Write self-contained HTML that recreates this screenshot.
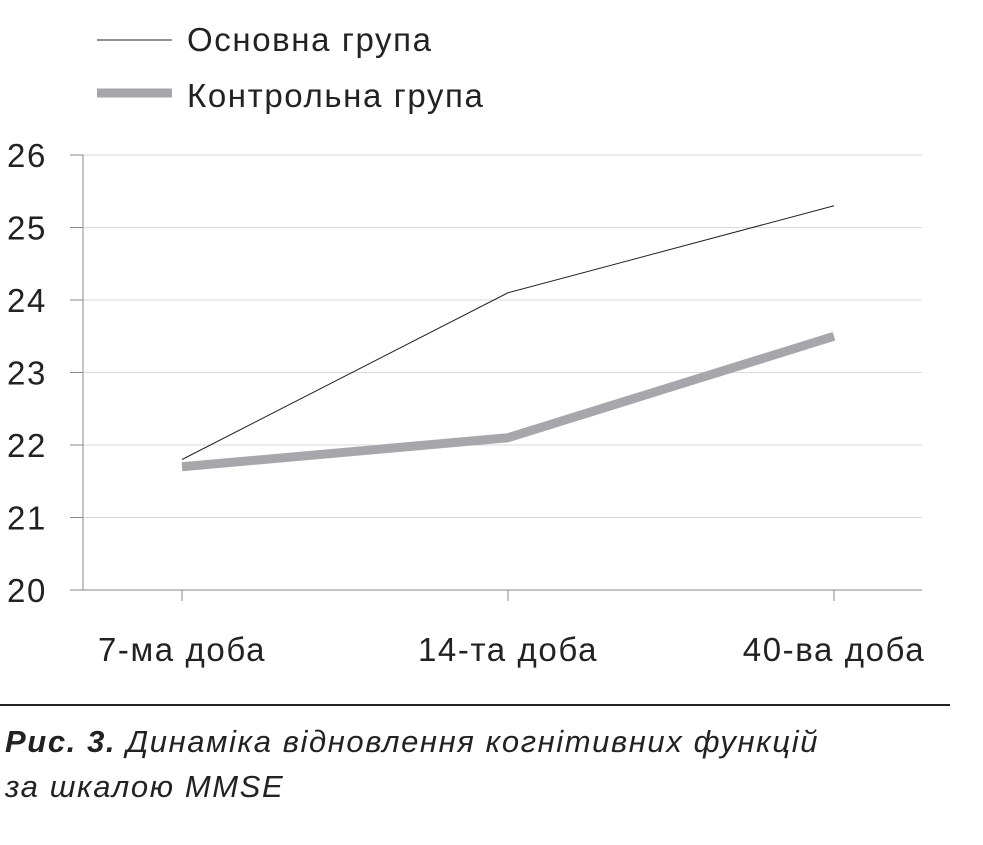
<!DOCTYPE html>
<html><head><meta charset="utf-8">
<style>
html,body{margin:0;padding:0;background:#fff;}
body{width:983px;height:840px;overflow:hidden;font-family:"Liberation Sans",sans-serif;}
text{letter-spacing:1.6px;}
</style></head>
<body>
<svg width="983" height="840" xmlns="http://www.w3.org/2000/svg">
<g id="legend">
  <line x1="97" y1="40" x2="172" y2="40" stroke="#222" stroke-width="1"/>
  <text x="187" y="51" font-size="33" fill="#222">Основна група</text>
  <line x1="97" y1="93" x2="172" y2="93" stroke="#a7a7ab" stroke-width="9"/>
  <text x="187" y="107" font-size="33" fill="#222">Контрольна група</text>
</g>
<g id="grid"></g>
<g id="axes"></g>
<g id="series"></g>
<line x1="0" y1="705" x2="950" y2="705" stroke="#222" stroke-width="2"/>
<text x="5" y="752" font-size="31" font-style="italic" fill="#222"><tspan font-weight="bold">Рис. 3.</tspan> Динаміка відновлення когнітивних функцій</text>
<text x="5" y="797" font-size="31" font-style="italic" fill="#222">за шкалою MMSE</text>
</svg>
<script>
const categories = ["7-ма доба","14-та доба","40-ва доба"];
const mainValues = [21.8, 24.1, 25.3];
const controlValues = [21.7, 22.1, 23.5];
const yTicks = [20,21,22,23,24,25,26];

const NS="http://www.w3.org/2000/svg";
const x0=83, x1=922, yTop=155, yBot=590, yMin=20, yMax=26;
function yScale(v){return yBot-(v-yMin)/(yMax-yMin)*(yBot-yTop);}
function xScale(i){return 182+i*(834-182)/(categories.length-1);}
function mk(tag,attrs,parent){const e=document.createElementNS(NS,tag);for(const k in attrs)e.setAttribute(k,attrs[k]);parent.appendChild(e);return e;}
const grid=document.getElementById('grid'), axes=document.getElementById('axes'), series=document.getElementById('series');
yTicks.forEach(t=>{
  const y=yScale(t);
  if(t!==yMin){
    const g=mk('line',{x1:x0,x2:x1,y1:y,y2:y,stroke:'#d9d9d9','stroke-width':1},grid);
    
    
  }
  const tk=mk('line',{x1:70,x2:x0,y1:y,y2:y,stroke:'#888','stroke-width':1},axes);
  
  
  const tx=mk('text',{x:7,y:y+12,'font-size':33,fill:'#222'},axes);
  tx.textContent=t;
  
  
});
const ya=mk('line',{x1:x0,x2:x0,y1:yTop,y2:yBot,stroke:'#888','stroke-width':1},axes);


const xa=mk('line',{x1:70,x2:x1,y1:yBot,y2:yBot,stroke:'#888','stroke-width':1},axes);


categories.forEach((c,i)=>{
  const x=xScale(i);
  const tk=mk('line',{x1:x,x2:x,y1:yBot,y2:yBot+11,stroke:'#888','stroke-width':1},axes);
  
  
  const tx=mk('text',{x:x,y:661,'font-size':33,fill:'#222','text-anchor':'middle'},axes);
  tx.textContent=c;
  
  
});
function pts(vals){return vals.map((v,i)=>xScale(i)+','+yScale(v)).join(' ');}
const pc=mk('polyline',{points:pts(controlValues),fill:'none',stroke:'#a7a7ab','stroke-width':9,'stroke-linejoin':'round'},series);


const pm=mk('polyline',{points:pts(mainValues),fill:'none',stroke:'#222','stroke-width':1},series);


</script>
</body></html>
